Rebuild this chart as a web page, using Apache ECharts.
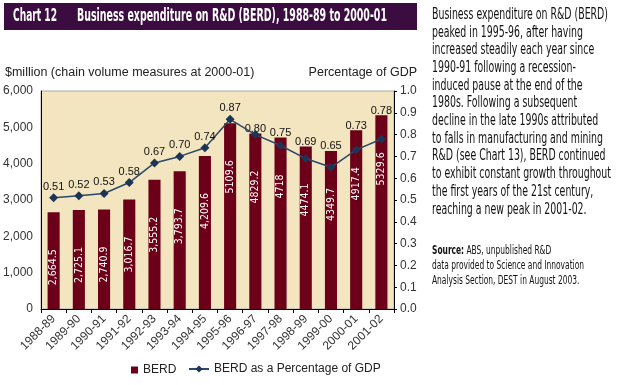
<!DOCTYPE html>
<html><head><meta charset="utf-8">
<script src="https://cdn.jsdelivr.net/npm/echarts@6/dist/echarts.min.js"></script>
<style>html,body{margin:0;padding:0;background:#fff}#c{width:619px;height:385px}</style>
</head><body><div id="c"></div>
<script>
var categories = ['1988-89','1989-90','1990-91','1991-92','1992-93','1993-94','1994-95','1995-96','1996-97','1997-98','1998-99','1999-00','2000-01','2001-02'];
var berd = [2664.5, 2725.1, 2740.9, 3016.7, 3555.2, 3793.7, 4209.6, 5109.6, 4829.2, 4718, 4474.1, 4349.7, 4917.4, 5329.6];
var berdLabels = ['2,664.5','2,725.1','2,740.9','3,016.7','3,555.2','3,793.7','4,209.6','5109.6','4829.2','4718','4474.1','4349.7','4917.4','5329.6'];
var gdpPct = [0.51, 0.52, 0.53, 0.58, 0.67, 0.70, 0.74, 0.87, 0.80, 0.75, 0.69, 0.65, 0.73, 0.78];
var leftTicks = [0, 1000, 2000, 3000, 4000, 5000, 6000];
var rightTicks = [0.0, 0.1, 0.2, 0.3, 0.4, 0.5, 0.6, 0.7, 0.8, 0.9, 1.0];

var titleNum = 'Chart 12';
var titleText = 'Business expenditure on R&D (BERD), 1988-89 to 2000-01';
var leftAxisName = '$million (chain volume measures at 2000-01)';
var rightAxisName = 'Percentage of GDP';
var para = ['Business expenditure on R&D (BERD)','peaked in 1995-96, after having','increased steadily each year since','1990-91 following a recession-','induced pause at the end of the','1980s. Following a subsequent','decline in the late 1990s attributed','to falls in manufacturing and mining','R&D (see Chart 13), BERD continued','to exhibit constant growth throughout','the first years of the 21st century,','reaching a new peak in 2001-02.'];
var sourceFirst = 'ABS, unpublished R&D';
var sourceLines = ['data provided to Science and Innovation','Analysis Section, DEST in August 2003.'];

var NARROW = '"DejaVu Sans Condensed", "Liberation Sans Narrow", sans-serif';
var ctx = document.createElement('canvas').getContext('2d');
function fitScale(text, font, target){ ctx.font = font; return target / ctx.measureText(text).width; }

var titleFont = 'bold 17px ' + NARROW;
var paraFont = '15px ' + NARROW;
var srcFont = '12px ' + NARROW;
var srcBold = 'bold 12px ' + NARROW;
var paraScale = fitScale(para[0], paraFont, 176);
var srcScale = fitScale(sourceLines[0], srcFont, 152);

var graphics = [
  {type:'rect', shape:{x:4,y:3,width:413,height:27}, style:{fill:'#3a0c3f'}},
  {type:'text', x:13, y:17, scaleX:fitScale(titleNum, titleFont, 44), style:{text:titleNum, fill:'#fff', font:titleFont, verticalAlign:'middle'}},
  {type:'text', x:77, y:17, scaleX:fitScale(titleText, titleFont, 310), style:{text:titleText, fill:'#fff', font:titleFont, verticalAlign:'middle'}},
  {type:'text', x:5, y:73, style:{text:leftAxisName, fill:'#222', font:'12.5px "Liberation Sans", sans-serif', verticalAlign:'middle'}},
  {type:'text', x:417, y:73, style:{text:rightAxisName, fill:'#222', font:'12.5px "Liberation Sans", sans-serif', verticalAlign:'middle', align:'right'}}
];
para.forEach(function(t,i){
  graphics.push({type:'text', x:432, y:15+i*17.7, scaleX:paraScale, style:{text:t, fill:'#111', font:paraFont, verticalAlign:'middle'}});
});
graphics.push({type:'text', x:432, y:251, scaleX:srcScale, style:{rich:{b:{font:srcBold, fill:'#111'}, n:{font:srcFont, fill:'#111'}}, text:'{b|Source:} {n|'+sourceFirst+'}', verticalAlign:'middle'}});
sourceLines.forEach(function(t,i){
  graphics.push({type:'text', x:432, y:266+i*14.5, scaleX:srcScale, style:{text:t, fill:'#111', font:srcFont, verticalAlign:'middle'}});
});

var leftMax = leftTicks[leftTicks.length-1], rightMax = rightTicks[rightTicks.length-1];
// label sits above the marker, or above the bar when the bar reaches higher
var aboveMarker = gdpPct.map(function(v,i){ return v/rightMax > berd[i]/leftMax; });
var lineData = gdpPct.map(function(v,i){ return {value:v, label:{show:aboveMarker[i]}}; });
var overlayData = berd.map(function(v,i){ return {value:v, label:{show:!aboveMarker[i]}}; });
var pctLabel = {color:'#111', fontSize:11, fontFamily:'Liberation Sans'};

var chart = echarts.init(document.getElementById('c'), null, {renderer:'canvas'});
chart.setOption({
  animation:false,
  grid:{left:41, right:225, top:91, bottom:76, show:true, backgroundColor:'#f3e5c0', borderColor:'#aaa', borderWidth:1},
  graphic: graphics,
  legend:[
    {data:['BERD'], left:126, top:359, itemWidth:7, itemHeight:7, icon:'rect', textStyle:{fontSize:12, color:'#222', fontFamily:'Liberation Sans'}},
    {data:['BERD as a Percentage of GDP'], left:183, top:358, itemWidth:20, itemHeight:9, itemGap:4, textStyle:{fontSize:12, color:'#222', fontFamily:'Liberation Sans'}}
  ],
  xAxis:{type:'category', data:categories, boundaryGap:true,
    axisLine:{lineStyle:{color:'#000', width:1}},
    axisTick:{show:true, length:4, lineStyle:{color:'#000'}},
    axisLabel:{rotate:45, fontSize:12, color:'#333', margin:8, fontFamily:'Liberation Sans', interval:0}},
  yAxis:[
    {type:'value', min:leftTicks[0], max:leftMax, interval:1000, splitLine:{show:false},
     axisLine:{show:true, lineStyle:{color:'#000'}}, axisTick:{show:false},
     axisLabel:{color:'#333', fontSize:12, fontFamily:'Liberation Sans', margin:8, formatter:function(v){return v.toLocaleString('en-US');}}},
    {type:'value', min:rightTicks[0], max:rightMax, interval:0.1, splitLine:{show:false},
     axisLine:{show:true, lineStyle:{color:'#000'}}, axisTick:{show:true, length:3, lineStyle:{color:'#000'}},
     axisLabel:{color:'#333', fontSize:12, fontFamily:'Liberation Sans', margin:6, formatter:function(v){return v.toFixed(1);}}}
  ],
  series:[
    {name:'BERD', type:'bar', data:berd, barWidth:'48%', itemStyle:{color:'#6d0019'},
     label:{show:true, position:'insideTop', distance:37, rotate:90, align:'right', verticalAlign:'middle', color:'#fff', fontSize:10.5, fontFamily:NARROW,
       formatter:function(p){return berdLabels[p.dataIndex];}}},
    {name:'pctOverlay', type:'bar', data:overlayData, barWidth:'48%', barGap:'-100%', silent:true, z:3,
     itemStyle:{color:'rgba(0,0,0,0)'},
     label:Object.assign({position:'top', distance:-1, formatter:function(p){return gdpPct[p.dataIndex].toFixed(2);}}, pctLabel)},
    {name:'BERD as a Percentage of GDP', type:'line', yAxisIndex:1, data:lineData, symbol:'diamond', symbolSize:9, z:4,
     lineStyle:{color:'#2a4868', width:1.5}, itemStyle:{color:'#1c3557'},
     label:Object.assign({position:'top', distance:1, formatter:function(p){return p.value.toFixed(2);}}, pctLabel)}
  ]
});
</script></body></html>
